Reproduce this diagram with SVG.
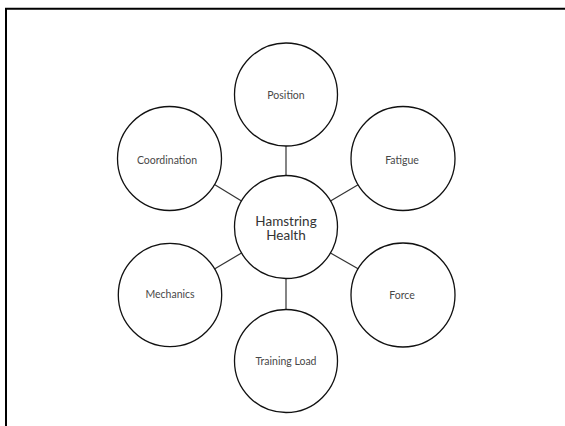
<svg xmlns="http://www.w3.org/2000/svg" width="565" height="426" viewBox="0 0 565 426">
  <style>
    .node circle { fill: #ffffff; stroke: #111111; stroke-width: 1.3; }
    .node text { font-family: Lato, "Noto Sans", "Liberation Sans", sans-serif; fill: #484848; text-anchor: middle; font-size: 10.5px; }
    #hub text { font-size: 13.5px; fill: #333333; }
    .connectors line { stroke: #333333; stroke-width: 1.2; }
    .frame { fill: none; stroke: #000000; stroke-width: 2; }
  </style>
  <rect width="565" height="426" fill="#ffffff"/>
  <!-- page frame, open at right and bottom -->
  <path class="frame" d="M6,426 V8.8 H565"/>

  <g class="connectors">
    <line x1="286" y1="146" x2="286" y2="175.5"/>
    <line x1="286" y1="278.5" x2="286" y2="309.5"/>
    <line x1="214.5" y1="184.5" x2="241.5" y2="201"/>
    <line x1="330.5" y1="201" x2="358.5" y2="184.5"/>
    <line x1="214.5" y1="269" x2="241.5" y2="253"/>
    <line x1="330.5" y1="253" x2="358.5" y2="269"/>
  </g>

  <g id="hub" class="node">
    <circle cx="286" cy="227" r="51.5"/>
    <text x="286" y="225.5">Hamstring</text>
    <text x="286" y="240">Health</text>
  </g>
  <g id="position" class="node">
    <circle cx="286" cy="94.5" r="51.5"/>
    <text x="286" y="98.5">Position</text>
  </g>
  <g id="fatigue" class="node">
    <circle cx="403" cy="158.5" r="52"/>
    <text x="402" y="164.3">Fatigue</text>
  </g>
  <g id="force" class="node">
    <circle cx="403" cy="295" r="52"/>
    <text x="402" y="298.5">Force</text>
  </g>
  <g id="training-load" class="node">
    <circle cx="286" cy="361" r="51.5"/>
    <text x="286" y="365">Training Load</text>
  </g>
  <g id="mechanics" class="node">
    <circle cx="170" cy="295" r="51.7"/>
    <text x="170" y="297.5">Mechanics</text>
  </g>
  <g id="coordination" class="node">
    <circle cx="169.5" cy="158.5" r="52"/>
    <text x="167" y="164.3">Coordination</text>
  </g>
</svg>
